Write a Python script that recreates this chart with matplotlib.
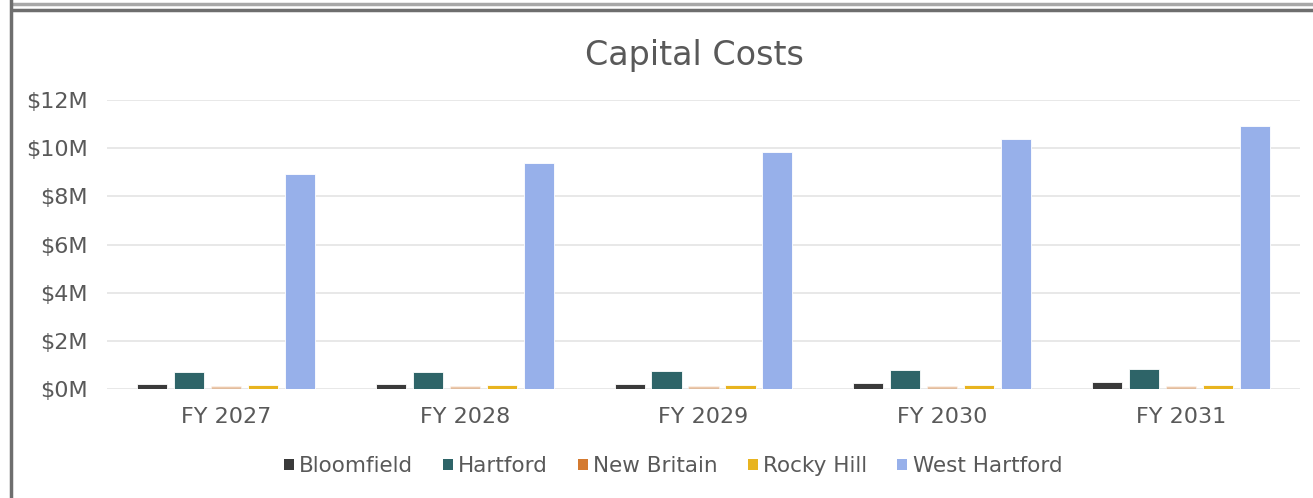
import numpy as np
import matplotlib
matplotlib.use("Agg")
import matplotlib.pyplot as plt
from matplotlib.lines import Line2D
from matplotlib.patches import Patch
from matplotlib.ticker import FuncFormatter

# values, in $M
years = ["FY 2027", "FY 2028", "FY 2029", "FY 2030", "FY 2031"]
towns = ["Bloomfield", "Hartford", "New Britain", "Rocky Hill", "West Hartford"]
bloomfield = [0.20, 0.20, 0.21, 0.25, 0.27]
hartford = [0.70, 0.71, 0.75, 0.79, 0.84]
new_britain = [0.12, 0.12, 0.12, 0.12, 0.12]
rocky_hill = [0.17, 0.17, 0.17, 0.17, 0.17]
west_hartford = [8.93, 9.39, 9.84, 10.37, 10.90]
series = [bloomfield, hartford, new_britain, rocky_hill, west_hartford]

colors = ["#3a3a3a", "#2e6468", "#d47a30", "#e8b420", "#97b0ea"]
bar_alpha = [1, 1, 0.4, 1, 1]  # new britain bars look faded in the source

W, H, DPI = 1313, 498, 100
fig = plt.figure(figsize=(W / DPI, H / DPI), dpi=DPI)
ax = fig.add_axes([107 / W, 1 - 389 / H, (1300 - 107) / W, (389 - 100) / H])

grey = "#595959"
x = np.arange(len(years))
slot = 0.155
for i, (vals, c, a) in enumerate(zip(series, colors, bar_alpha)):
    ax.bar(x + (i - 2) * slot, vals, width=0.126, color=c, alpha=a,
           edgecolor="white", linewidth=0.6, zorder=3)

ax.set_xlim(-0.5, len(years) - 0.5)
ax.set_ylim(0, 12)
ax.set_yticks(np.arange(0, 13, 2))
ax.yaxis.set_major_formatter(FuncFormatter(lambda v, _: f"${v:.0f}M"))
ax.set_xticks(x)
ax.set_xticklabels(years)
ax.tick_params(length=0, colors=grey, labelsize=16)
ax.tick_params(axis="x", pad=13)
ax.tick_params(axis="y", pad=14)
ax.grid(axis="y", color="#e6e6e6", linewidth=1.3, zorder=0)
for s in ["top", "right", "left", "bottom"]:
    ax.spines[s].set_visible(False)

fig.text(694 / W, 1 - 55 / H, "Capital Costs", ha="center", va="center",
         fontsize=24, color=grey)

handles = [Patch(facecolor=c, edgecolor="none") for c in colors]
fig.legend(handles, towns, loc="center", bbox_to_anchor=(673 / W, 1 - 466 / H),
           ncol=5, frameon=False, fontsize=15.5, labelcolor=grey,
           handlelength=0.45, handleheight=0.45, handletextpad=0.25, columnspacing=1.4)

# frame lines of the surrounding panel
fig.add_artist(Line2D([12 / W, 1], [1 - 4 / H] * 2, transform=fig.transFigure,
                      color="#a8a8a8", linewidth=2.5))
fig.add_artist(Line2D([12 / W, 1], [1 - 10 / H] * 2, transform=fig.transFigure,
                      color="#6e6e6e", linewidth=2.5))
fig.add_artist(Line2D([11 / W] * 2, [0, 1], transform=fig.transFigure,
                      color="#6e6e6e", linewidth=2.5))

fig.savefig("out.png", dpi=DPI)
